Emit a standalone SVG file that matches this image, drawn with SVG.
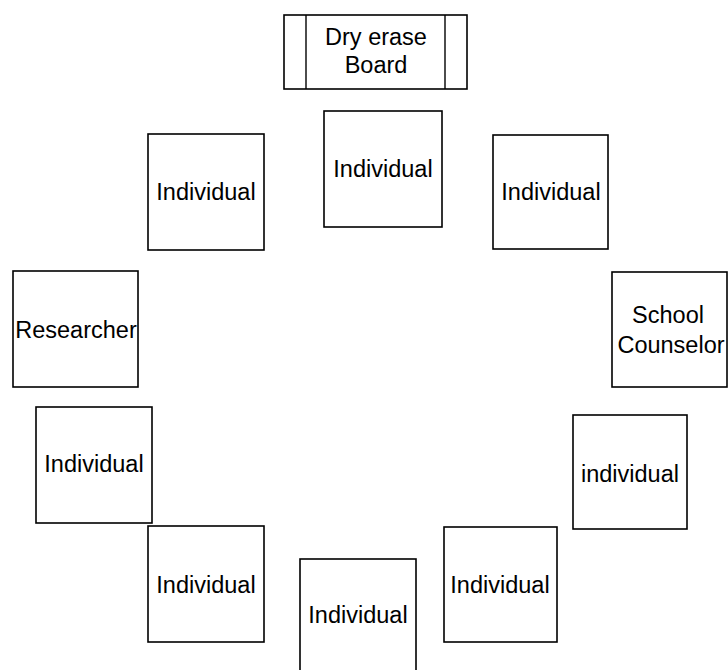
<svg xmlns="http://www.w3.org/2000/svg" width="728" height="670" viewBox="0 0 728 670">
<style>
.box{fill:#fff;stroke:#000;stroke-width:1.6}
.t{font-family:"Liberation Sans",Arial,sans-serif;font-size:23.5px;fill:#000;text-anchor:middle}
</style>
<rect width="728" height="670" fill="#fff"/>
<g id="board">
<rect class="box" x="284" y="15" width="183" height="74"/>
<line x1="306" y1="15" x2="306" y2="89" stroke="#000" stroke-width="1.4"/>
<line x1="445" y1="15" x2="445" y2="89" stroke="#000" stroke-width="1.4"/>
<text class="t" x="376" y="45">Dry erase</text>
<text class="t" x="376" y="73">Board</text>
</g>
<g id="ind-top">
<rect class="box" x="324" y="111" width="118" height="116"/>
<text class="t" x="383" y="177">Individual</text>
</g>
<g id="ind-topleft">
<rect class="box" x="148" y="134" width="116" height="116"/>
<text class="t" x="206" y="200">Individual</text>
</g>
<g id="ind-topright">
<rect class="box" x="493" y="135" width="115" height="114"/>
<text class="t" x="551" y="200">Individual</text>
</g>
<g id="researcher">
<rect class="box" x="13" y="271" width="125" height="116"/>
<text class="t" x="76" y="338">Researcher</text>
</g>
<g id="counselor">
<rect class="box" x="612" y="272" width="115" height="115"/>
<text class="t" x="668" y="323">School</text>
<text class="t" x="671" y="353">Counselor</text>
</g>
<g id="ind-left">
<rect class="box" x="36" y="407" width="116" height="116"/>
<text class="t" x="94" y="472">Individual</text>
</g>
<g id="ind-right">
<rect class="box" x="573" y="415" width="114" height="114"/>
<text class="t" x="630" y="482">individual</text>
</g>
<g id="ind-bottomleft">
<rect class="box" x="148" y="526" width="116" height="116"/>
<text class="t" x="206" y="593">Individual</text>
</g>
<g id="ind-bottom">
<rect class="box" x="300" y="559" width="116" height="120"/>
<text class="t" x="358" y="623">Individual</text>
</g>
<g id="ind-bottomright">
<rect class="box" x="444" y="527" width="113" height="115"/>
<text class="t" x="500" y="593">Individual</text>
</g>
<g id="connectors"></g>
</svg>
